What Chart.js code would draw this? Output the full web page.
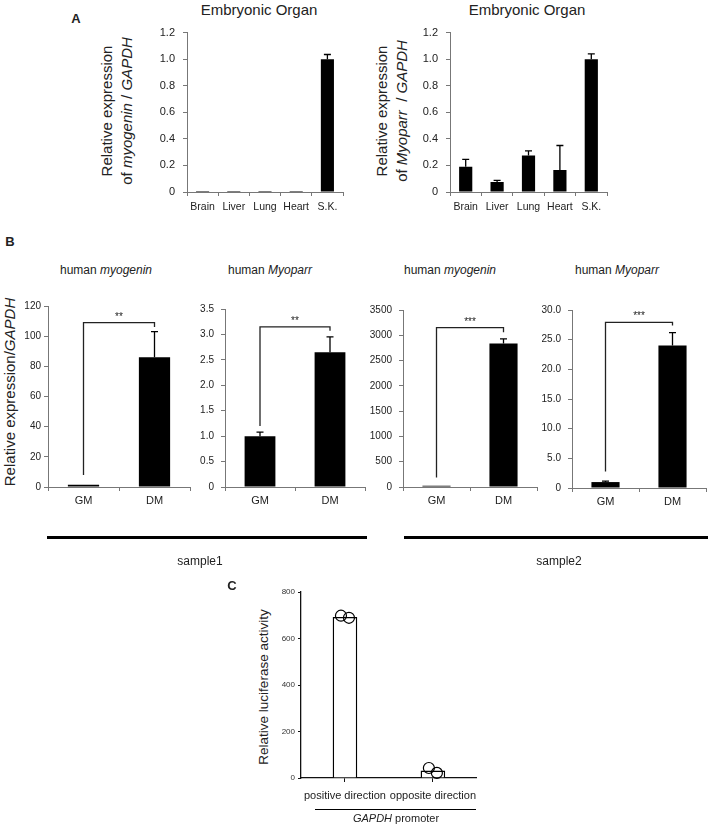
<!DOCTYPE html>
<html lang="en">
<head>
<meta charset="UTF-8" />
<title>Myoparr expression</title>
<script src="https://cdn.jsdelivr.net/npm/chart.js"></script>
<style>
  body { margin: 0; background: #fff; font-family: Arial, "Liberation Sans", sans-serif; color: #222; }
  #page { position: relative; width: 708px; height: 828px; overflow: hidden; }
  canvas { position: absolute; }
  .txt { position: absolute; white-space: nowrap; transform: translate(-50%, -50%); }
  .vert { position: absolute; white-space: nowrap; text-align: center; transform: translate(-50%, -50%) rotate(-90deg); }
  .rule { position: absolute; background: #000; }
  .letter { font-weight: bold; font-size: 13px; }
</style>
</head>
<body>
<div id="page">
  <!-- panel A -->
  <div class="txt letter" style="left:76px;top:18px">A</div>
  <div class="txt" style="left:259px;top:9px;font-size:15px">Embryonic Organ</div>
  <div class="txt" style="left:527px;top:9px;font-size:15px">Embryonic Organ</div>
  <div class="vert" style="left:117px;top:111px;font-size:15px;line-height:20px">Relative expression<br>of <i>myogenin</i> / <i>GAPDH</i></div>
  <div class="vert" style="left:392px;top:111px;font-size:15px;line-height:20px">Relative expression<br>of <i>Myoparr</i>&nbsp; / <i>GAPDH</i></div>
  <canvas id="orgMyogenin"></canvas>
  <canvas id="orgMyoparr"></canvas>

  <!-- panel B -->
  <div class="txt letter" style="left:10px;top:241px">B</div>
  <div class="txt" style="left:106px;top:270px;font-size:12px">human <i>myogenin</i></div>
  <div class="txt" style="left:270px;top:270px;font-size:12px">human <i>Myoparr</i></div>
  <div class="txt" style="left:450px;top:270px;font-size:12px">human <i>myogenin</i></div>
  <div class="txt" style="left:617px;top:270px;font-size:12px">human <i>Myoparr</i></div>
  <div class="vert" style="left:9px;top:392px;font-size:15px">Relative expression/<i>GAPDH</i></div>
  <canvas id="s1Myogenin"></canvas>
  <canvas id="s1Myoparr"></canvas>
  <canvas id="s2Myogenin"></canvas>
  <canvas id="s2Myoparr"></canvas>
  <div class="rule" style="left:47px;top:536px;width:320px;height:3px"></div>
  <div class="rule" style="left:404px;top:536px;width:304px;height:3px"></div>
  <div class="txt" style="left:200px;top:561px;font-size:12px">sample1</div>
  <div class="txt" style="left:559px;top:561px;font-size:12px">sample2</div>

  <!-- panel C -->
  <div class="txt letter" style="left:232px;top:585px">C</div>
  <div class="vert" style="left:263px;top:687px;font-size:13.5px">Relative luciferase activity</div>
  <canvas id="luciferase"></canvas>
  <div class="rule" style="left:315px;top:809px;width:161px;height:1px"></div>
  <div class="txt" style="left:396px;top:818px;font-size:11px"><i>GAPDH</i> promoter</div>
</div>

<script>
  // ---- data ----
  const organs = ['Brain', 'Liver', 'Lung', 'Heart', 'S.K.'];
  const myogeninOrgan = [0.008, 0.008, 0.008, 0.008, 1.0];
  const myogeninOrganErr = [0, 0, 0, 0, 0.035];
  const myoparrOrgan = [0.19, 0.075, 0.275, 0.165, 1.0];
  const myoparrOrganErr = [0.055, 0.012, 0.035, 0.185, 0.04];

  const media = ['GM', 'DM'];
  const s1MyogeninVals = [1.5, 86];
  const s1MyogeninErr = [0, 17];
  const s1MyoparrVals = [1.0, 2.65];
  const s1MyoparrErr = [0.08, 0.3];
  const s2MyogeninVals = [25, 2840];
  const s2MyogeninErr = [0, 90];
  const s2MyoparrVals = [1.0, 24.0];
  const s2MyoparrErr = [0.15, 2.2];

  // significance brackets: top of bracket, GM leg end, DM leg end
  const bracketTop = [109, 3.15, 3150, 27.9];
  const bracketFrom = [8, 1.2, 190, 2.8];
  const bracketTo = [106, 3.07, 3060, 27.4];
  const bracketStars = ['**', '**', '***', '***'];

  const directions = ['positive direction', 'opposite direction'];
  const luciferaseMean = [692, 32];
  const luciferaseReps = [[698, 689], [43, 22]];

  const FONT = 'Arial, "Liberation Sans", sans-serif';

  // error bars, brackets and replicate circles drawn through the chart scales
  const extras = {
    id: 'extras',
    afterDatasetsDraw(chart, args, opts) {
      const ctx = chart.ctx, xs = chart.scales.x, ys = chart.scales.y;
      const vals = chart.data.datasets[0].data;
      ctx.save();
      ctx.strokeStyle = '#000';
      ctx.lineWidth = 1.3;
      (opts.err || []).forEach((e, i) => {
        if (!e) return;
        const cx = xs.getPixelForValue(i);
        const y0 = ys.getPixelForValue(vals[i]);
        const y1 = ys.getPixelForValue(vals[i] + e);
        ctx.beginPath();
        ctx.moveTo(cx, y0); ctx.lineTo(cx, y1);
        ctx.moveTo(cx - 3.5, y1); ctx.lineTo(cx + 3.5, y1);
        ctx.stroke();
      });
      if (opts.bracket) {
        const b = opts.bracket;
        const xa = xs.getPixelForValue(0), xb = xs.getPixelForValue(1);
        const yt = ys.getPixelForValue(b.top);
        ctx.strokeStyle = '#222';
        ctx.beginPath();
        ctx.moveTo(xa, ys.getPixelForValue(b.from));
        ctx.lineTo(xa, yt); ctx.lineTo(xb, yt);
        ctx.lineTo(xb, ys.getPixelForValue(b.to));
        ctx.stroke();
        ctx.fillStyle = '#222';
        ctx.font = '10px ' + FONT;
        ctx.textAlign = 'center';
        ctx.textBaseline = 'alphabetic';
        ctx.fillText(b.stars, (xa + xb) / 2, yt - 3);
      }
      if (opts.reps) {
        ctx.lineWidth = 1.2;
        opts.reps.forEach((grp, i) => {
          const cx = xs.getPixelForValue(i);
          grp.forEach((v, j) => {
            const dx = (j - (grp.length - 1) / 2) * 8;
            ctx.beginPath();
            ctx.arc(cx + dx, ys.getPixelForValue(v), 5.5, 0, Math.PI * 2);
            ctx.stroke();
          });
        });
      }
      ctx.restore();
    }
  };
  Chart.register(extras);

  function barChart(id, box, labels, values, o) {
    const cv = document.getElementById(id);
    const padL = 44, padT = 10, padR = 4, padB = 30;
    cv.width = box.x1 - box.x0 + padL + padR;
    cv.height = box.y1 - box.y0 + padT + padB;
    cv.style.left = (box.x0 - padL) + 'px';
    cv.style.top = (box.y0 - padT) + 'px';
    const axisCol = o.axisColor || '#777';
    return new Chart(cv, {
      type: 'bar',
      data: {
        labels: labels,
        datasets: [{
          data: values,
          backgroundColor: o.fill || '#000',
          borderColor: '#000',
          borderWidth: o.border || 0,
          categoryPercentage: 1,
          barPercentage: o.barPct
        }]
      },
      options: {
        responsive: false,
        animation: false,
        layout: { padding: { left: 0, top: padT, right: padR, bottom: 0 } },
        plugins: {
          legend: { display: false },
          tooltip: { enabled: false },
          extras: { err: o.err, bracket: o.bracket, reps: o.reps }
        },
        scales: {
          x: {
            afterFit: s => { s.height = padB; },
            grid: { display: true, drawOnChartArea: false, tickLength: 4, color: axisCol, offset: o.tickAtCenter ? false : true },
            border: { color: axisCol, width: o.axisWidth || 1 },
            ticks: {
              color: '#222', padding: o.xPad, autoSkip: false, maxRotation: 0, minRotation: 0,
              font: { family: FONT, size: o.xFont }
            }
          },
          y: {
            min: 0,
            max: o.max,
            afterFit: s => { s.width = padL; },
            grid: { display: true, drawOnChartArea: false, tickLength: o.yTick || 4, color: axisCol },
            border: { color: axisCol, width: o.axisWidth || 1 },
            ticks: {
              stepSize: o.step,
              color: o.yColor || '#222',
              padding: o.yPad,
              font: { family: FONT, size: o.yFont },
              callback: o.fmt
            }
          }
        }
      }
    });
  }

  const oneDec = v => v === 0 ? '0' : v.toFixed(1);
  const whole = v => String(Math.round(v));

  // panel A
  const aOpts = { max: 1.2, step: 0.2, fmt: oneDec, barPct: 0.42, xPad: 5, yPad: 8, xFont: 10.5, yFont: 11 };
  barChart('orgMyogenin', { x0: 187, x1: 343, y0: 28, y1: 192 }, organs, myogeninOrgan,
    Object.assign({}, aOpts, { err: myogeninOrganErr }));
  barChart('orgMyoparr', { x0: 450, x1: 607, y0: 28, y1: 192 }, organs, myoparrOrgan,
    Object.assign({}, aOpts, { err: myoparrOrganErr }));

  // panel B
  const bOpts = { barPct: 0.44, xPad: 3, yPad: 7, xFont: 11, yFont: 10 };
  const bracket = i => ({ top: bracketTop[i], from: bracketFrom[i], to: bracketTo[i], stars: bracketStars[i] });
  barChart('s1Myogenin', { x0: 48, x1: 190, y0: 306, y1: 487 }, media, s1MyogeninVals,
    Object.assign({}, bOpts, { max: 120, step: 20, fmt: whole, err: s1MyogeninErr, bracket: bracket(0), yPad: 3 }));
  barChart('s1Myoparr', { x0: 225, x1: 365, y0: 306, y1: 487 }, media, s1MyoparrVals,
    Object.assign({}, bOpts, { max: 3.5, step: 0.5, fmt: oneDec, err: s1MyoparrErr, bracket: bracket(1) }));
  barChart('s2Myogenin', { x0: 403, x1: 537, y0: 307, y1: 487 }, media, s2MyogeninVals,
    Object.assign({}, bOpts, { max: 3500, step: 500, fmt: whole, err: s2MyogeninErr, bracket: bracket(2), barPct: 0.42 }));
  barChart('s2Myoparr', { x0: 572, x1: 706, y0: 307, y1: 488 }, media, s2MyoparrVals,
    Object.assign({}, bOpts, { max: 30, step: 5, fmt: oneDec, err: s2MyoparrErr, bracket: bracket(3), barPct: 0.42 }));

  // panel C
  barChart('luciferase', { x0: 301, x1: 480, y0: 592, y1: 778 }, directions, luciferaseMean, {
    max: 800, step: 200, fmt: whole, barPct: 0.28, fill: '#fff', border: 1.5,
    axisColor: '#111', axisWidth: 1.3, tickAtCenter: true, yTick: 3,
    xPad: 7, yPad: 3, xFont: 11, yFont: 8, yColor: '#333', reps: luciferaseReps
  });
</script>
</body>
</html>
